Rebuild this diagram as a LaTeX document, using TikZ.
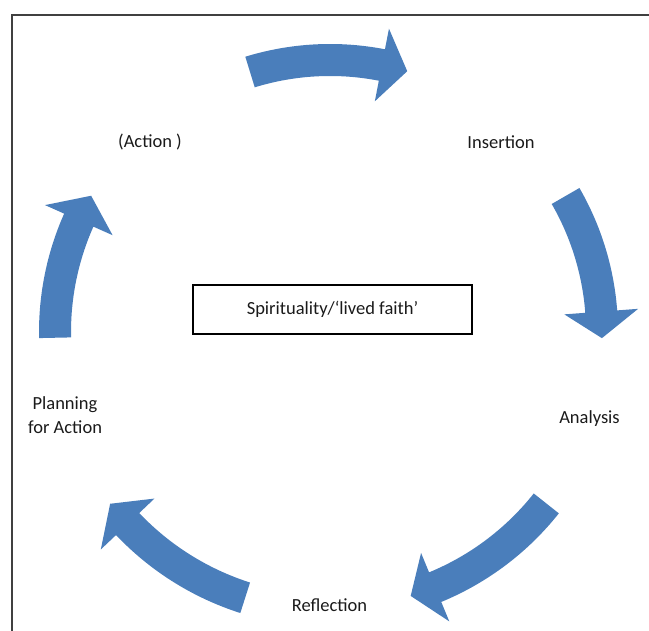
\documentclass[tikz,border=0pt]{standalone}
\usepackage{fontspec}
\setmainfont{Carlito}
\definecolor{arrowblue}{HTML}{4A7EBB}
\definecolor{frameline}{HTML}{404040}
\definecolor{txt}{HTML}{1A1A1A}
\tikzset{
  arrowfill/.style={fill=arrowblue},
  lbl/.style={font=\fontsize{18.5}{24}\selectfont, text=txt, inner sep=0pt, align=center},
  centrebox/.style={draw=black, line width=2.4pt, minimum width=279pt, minimum height=49pt, inner sep=0pt, text=txt, font=\fontsize{18.5}{24}\selectfont},
  framestyle/.style={draw=frameline, line width=1.2pt}
}
% #1 start angle, #2 head base angle, #3 tip angle, #4 centre radius
\newcommand{\cyclearrow}[4]{%
  \fill[arrowfill] ([shift={(C)}]#1:{#4+16}) arc[start angle=#1, end angle=#2, radius={#4+16}]
    -- ([shift={(C)}]#2:{#4+37}) -- ([shift={(C)}]#3:#4) -- ([shift={(C)}]#2:{#4-37})
    -- ([shift={(C)}]#2:{#4-16}) arc[start angle=#2, end angle=#1, radius={#4-16}] -- cycle;}
\begin{document}
\begin{tikzpicture}[x=1pt,y=1pt]
\useasboundingbox (0,0) rectangle (649,631);
\coordinate (C) at (330,299);
% frame
\coordinate (fb) at (12,0);
\coordinate (fc) at (12,616);
\coordinate (fr) at (649,616);
\draw[framestyle] (fb) -- (fc) -- (fr);
% arrows
\cyclearrow{107.1}{79}{73.5}{272}
\cyclearrow{30}{4.3}{-1.3}{272}
\cyclearrow{-38.4}{-67.6}{-73}{276}
\cyclearrow{-107.7}{-136.5}{-142}{279}
\cyclearrow{181.2}{156}{150.3}{275}
% labels
\node[lbl] (action) at (150,489) {(Action )};
\node[lbl] (insertion) at (501,489) {Insertion};
\node[lbl] (analysis) at (589.5,212) {Analysis};
\node[lbl] (reflection) at (329.5,26) {Reflection};
\node[lbl] (planning) at (65,216) {Planning\\for Action};
\node[centrebox] (spirit) at (332.5,321.5) {Spirituality/‘lived faith’};
\end{tikzpicture}
\end{document}
